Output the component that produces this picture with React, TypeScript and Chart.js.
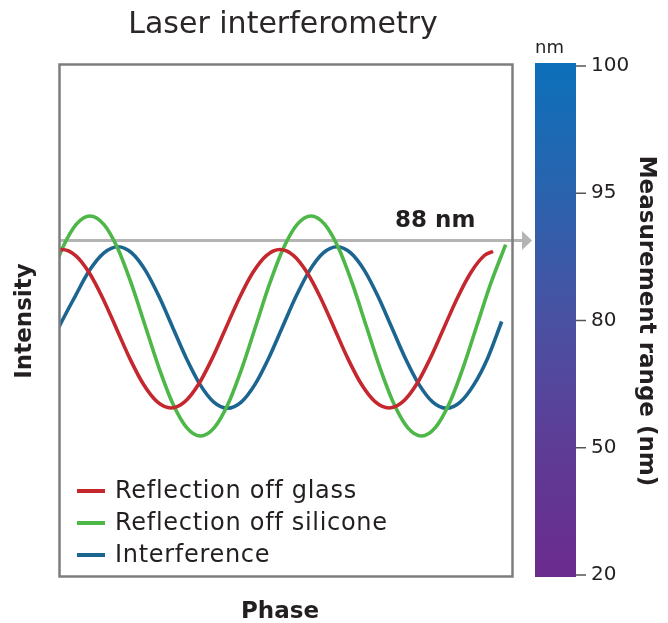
import React, { useEffect, useRef } from "react";
import { Chart, registerables } from "chart.js";

Chart.register(...registerables);

const TITLE = "Laser interferometry";
const X_TITLE = "Phase";
const Y_TITLE = "Intensity";
const BAR_TITLE = "Measurement range (nm)";
const BAR_UNIT = "nm";
const BAR_TICKS = ["100", "95", "80", "50", "20"];
const ARROW_LABEL = "88 nm";
const ARROW_LEVEL = 65.7;

const SERIES_LABELS = ["Reflection off glass", "Reflection off silicone", "Interference"];
const SERIES_COLORS = ["#c4272e", "#4db748", "#1c6590"];

// Reflection off glass (phase, intensity)
const glassPhase = [-2.57, 0.44, 3.46, 6.47, 9.49, 12.5, 15.51, 18.53, 21.54, 24.56, 27.57, 30.59, 33.6, 36.62, 39.63, 42.64, 45.66, 48.67, 51.69, 54.7, 57.72, 60.73, 63.74, 66.76, 69.77, 72.79, 75.8, 78.82, 81.83, 84.85, 87.86, 90.87, 93.89, 95.8];
const glassIntensity = [62.79, 63.96, 62.79, 59.43, 54.41, 48.49, 42.56, 37.54, 34.19, 33.01, 34.19, 37.54, 42.56, 48.49, 54.41, 59.43, 62.79, 63.96, 62.79, 59.43, 54.41, 48.49, 42.56, 37.54, 34.19, 33.01, 34.19, 37.54, 42.56, 48.49, 54.41, 59.43, 62.79, 63.6];

// Reflection off silicone
const siliconePhase = [-2.53, 0.53, 3.58, 6.64, 9.69, 12.75, 15.8, 18.86, 21.92, 24.97, 28.03, 31.08, 34.14, 37.2, 40.25, 43.31, 46.36, 49.42, 52.48, 55.53, 58.59, 61.64, 64.7, 67.75, 70.81, 73.87, 76.92, 79.98, 83.03, 86.09, 89.15, 92.2, 95.26, 98.6];
const siliconeIntensity = [57.24, 64.21, 68.87, 70.51, 68.87, 64.21, 57.24, 49.02, 40.8, 33.83, 29.17, 27.54, 29.17, 33.83, 40.8, 49.02, 57.24, 64.21, 68.87, 70.51, 68.87, 64.21, 57.24, 49.02, 40.8, 33.83, 29.17, 27.54, 29.17, 33.83, 40.8, 49.02, 57.24, 64.9];

// Interference
const interferencePhase = [-3.21, 0, 3.32, 6.53, 9.73, 12.83, 15.86, 18.89, 21.92, 24.94, 27.97, 31.0, 34.03, 37.06, 40.09, 43.11, 46.14, 49.17, 52.2, 55.23, 58.26, 61.28, 64.31, 67.34, 70.37, 73.4, 76.42, 79.45, 82.48, 85.51, 88.54, 91.57, 94.59, 97.72];
const interferenceIntensity = [43.16, 49.22, 54.77, 59.89, 63.31, 64.51, 63.31, 59.89, 54.77, 48.73, 42.69, 37.57, 34.15, 32.95, 34.15, 37.57, 42.69, 48.73, 54.77, 59.89, 63.31, 64.51, 63.31, 59.89, 54.77, 48.73, 42.69, 37.57, 34.15, 32.95, 34.15, 37.57, 42.69, 49.9];

const FONT = '"DejaVu Sans", "Noto Sans", sans-serif';
const TEXT = "#231f20";

function pts(xs: number[], ys: number[]) {
  return xs.map((x, i) => ({ x, y: ys[i] }));
}

const overlay = {
  id: "overlay",
  beforeDatasetsDraw(chart: any) {
    const { ctx, chartArea, scales } = chart;
    const y = scales.y.getPixelForValue(ARROW_LEVEL);
    const x0 = chartArea.left;
    const x1 = chartArea.right + 10;
    ctx.save();
    ctx.strokeStyle = "#b4b4b4";
    ctx.fillStyle = "#b4b4b4";
    ctx.lineWidth = 3;
    ctx.beginPath();
    ctx.moveTo(x0, y);
    ctx.lineTo(x1, y);
    ctx.stroke();
    ctx.beginPath();
    ctx.moveTo(x1, y - 9.5);
    ctx.lineTo(x1 + 10, y);
    ctx.lineTo(x1, y + 9.5);
    ctx.closePath();
    ctx.fill();
    ctx.restore();
  },
  afterDraw(chart: any) {
    const { ctx, chartArea } = chart;
    const { left, right, top, bottom } = chartArea;
    const cx = (left + right) / 2;
    const cy = (top + bottom) / 2;
    ctx.save();
    // plot border
    ctx.strokeStyle = "#7d7d7d";
    ctx.lineWidth = 2.5;
    ctx.strokeRect(left - 0.5, top - 0.5, right - left + 1, bottom - top);

    ctx.fillStyle = TEXT;
    // title
    ctx.font = `30px ${FONT}`;
    ctx.textAlign = "center";
    ctx.textBaseline = "alphabetic";
    ctx.fillStyle = "#2b2728";
    ctx.fillText(TITLE, cx - 3, 33);
    ctx.fillStyle = TEXT;

    // x title
    ctx.font = `bold 23px ${FONT}`;
    ctx.fillText(X_TITLE, cx - 6, 618);

    // y title
    ctx.save();
    ctx.translate(25, cy);
    ctx.rotate(-Math.PI / 2);
    ctx.textBaseline = "middle";
    ctx.fillText(Y_TITLE, 0, 0);
    ctx.restore();

    // arrow label
    ctx.font = `bold 23px ${FONT}`;
    ctx.textAlign = "left";
    ctx.fillText(ARROW_LABEL, 395, 227);

    // legend
    ctx.font = `24px ${FONT}`;
    (ctx as any).letterSpacing = "0.7px";
    const rows = [491, 523, 555];
    SERIES_LABELS.forEach((lab, i) => {
      ctx.strokeStyle = SERIES_COLORS[i];
      ctx.lineWidth = 4;
      ctx.beginPath();
      ctx.moveTo(left + 17, rows[i]);
      ctx.lineTo(left + 45, rows[i]);
      ctx.stroke();
      ctx.textBaseline = "middle";
      ctx.fillStyle = TEXT;
      ctx.fillText(lab, left + 55, rows[i] + 1);
    });
    (ctx as any).letterSpacing = "0px";

    // colour bar
    const bx = right + 23;
    const bw = 41;
    const bt = top - 2;
    const bb = bottom;
    const g = ctx.createLinearGradient(0, bt, 0, bb);
    g.addColorStop(0, "#0c70ba");
    g.addColorStop(0.25, "#2a63ae");
    g.addColorStop(0.5, "#4a51a2");
    g.addColorStop(0.75, "#5e3c96");
    g.addColorStop(1, "#6b2b8e");
    ctx.fillStyle = g;
    ctx.fillRect(bx, bt, bw, bb - bt);

    const t0 = bt + 3;
    const t1 = bb - 2;
    ctx.strokeStyle = "#555555";
    ctx.lineWidth = 1.5;
    ctx.fillStyle = TEXT;
    ctx.font = `20px ${FONT}`;
    ctx.textAlign = "left";
    ctx.textBaseline = "middle";
    BAR_TICKS.forEach((t, i) => {
      const ty = t0 + ((t1 - t0) * i) / (BAR_TICKS.length - 1);
      ctx.beginPath();
      ctx.moveTo(bx + bw, ty);
      ctx.lineTo(bx + bw + 10, ty);
      ctx.stroke();
      ctx.fillText(t, bx + bw + 15, ty);
    });

    ctx.font = `18px ${FONT}`;
    ctx.textBaseline = "alphabetic";
    ctx.fillText(BAR_UNIT, bx, 53);

    // colour bar title
    ctx.save();
    ctx.translate(646, cy);
    ctx.rotate(Math.PI / 2);
    ctx.textAlign = "center";
    ctx.textBaseline = "middle";
    ctx.font = `600 23px ${FONT}`;
    ctx.fillText(BAR_TITLE, 0, 0);
    ctx.restore();

    ctx.restore();
  },
};

export default function App() {
  const ref = useRef<HTMLCanvasElement | null>(null);
  useEffect(() => {
    if (!ref.current) return;
    const chart = new Chart(ref.current, {
      type: "line",
      data: {
        datasets: [
          { label: SERIES_LABELS[0], data: pts(glassPhase, glassIntensity), borderColor: SERIES_COLORS[0] },
          { label: SERIES_LABELS[1], data: pts(siliconePhase, siliconeIntensity), borderColor: SERIES_COLORS[1] },
          { label: SERIES_LABELS[2], data: pts(interferencePhase, interferenceIntensity), borderColor: SERIES_COLORS[2] },
        ].map((d) => ({
          ...d,
          borderWidth: 3.6,
          pointRadius: 0,
          fill: false,
          cubicInterpolationMode: "monotone" as const,
          borderCapStyle: "butt" as const,
        })),
      },
      options: {
        animation: false,
        responsive: true,
        maintainAspectRatio: false,
        layout: { padding: { left: 60, right: 156, top: 65, bottom: 46 } },
        plugins: { legend: { display: false }, tooltip: { enabled: false } },
        scales: {
          x: { type: "linear", min: 0, max: 100, display: false },
          y: { type: "linear", min: 0, max: 100, display: false },
        },
      },
      plugins: [overlay],
    });
    return () => chart.destroy();
  }, []);
  return (
    <div style={{ position: "fixed", left: 0, top: 0, width: 668, height: 623, background: "#fff" }}>
      <canvas ref={ref} />
    </div>
  );
}
